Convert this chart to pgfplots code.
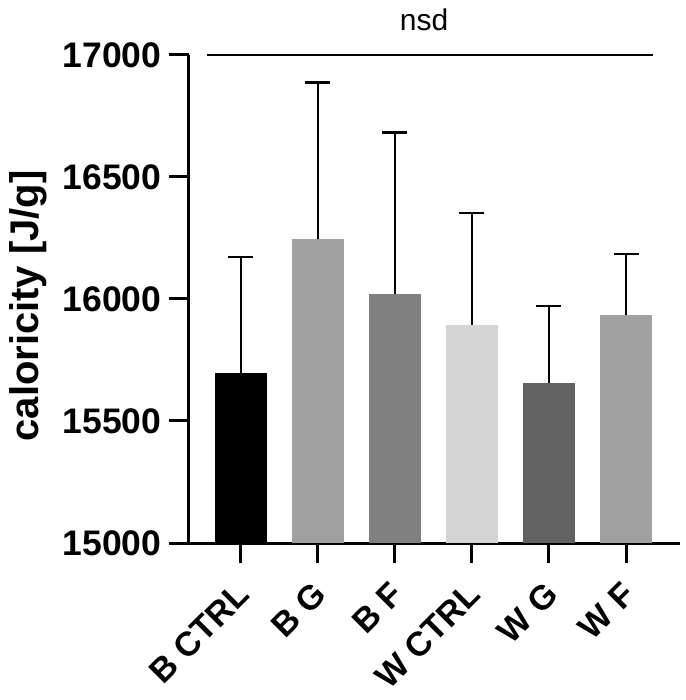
\documentclass[border=0pt]{standalone}
\usepackage{pgfplots}
\pgfplotsset{compat=1.18}
\usepackage{fontspec}
\setmainfont{Liberation Sans}
\definecolor{cBG}{HTML}{A0A0A0}
\definecolor{cBF}{HTML}{808080}
\definecolor{cWC}{HTML}{D4D4D4}
\definecolor{cWG}{HTML}{626262}
\definecolor{cWF}{HTML}{A0A0A0}
\begin{document}
\begin{tikzpicture}
\useasboundingbox (-189pt,-157pt) rectangle (496pt,543pt);
\begin{axis}[
  at={(0pt,0pt)}, anchor=south west,
  scale only axis, width=491pt, height=488pt,
  xmin=-0.671, xmax=5.70, ymin=15000, ymax=17000,
  axis x line*=bottom, axis y line*=left,
  axis line style={line width=3pt},
  every tick/.style={black, line width=3pt},
  tick align=outside, major tick length=20pt,
  xtick={0,1,2,3,4,5},
  xticklabels={B CTRL, B G, B F, W CTRL, W G, W F},
  ytick={15000,15500,16000,16500,17000},
  scaled y ticks=false,
  /pgf/number format/assume math mode=true,
  /pgf/number format/1000 sep={},
  yticklabel style={font=\fontsize{35.5}{35.5}\selectfont\bfseries, xshift=-4pt},
  xticklabel style={font=\fontsize{34}{34}\selectfont\bfseries, rotate=45, anchor=east, xshift=-13pt, yshift=-20pt},
  ylabel={caloricity [J/g]},
  ylabel style={font=\fontsize{40}{40}\selectfont\bfseries, at={(axis description cs:-0.328,0.486)}, anchor=center},
  ybar, bar width=52pt, bar shift=0pt,
  clip=false,
  error bars/y dir=plus, error bars/y explicit,
  error bars/error bar style={black, line width=2.2pt},
  error bars/error mark options={rotate=90, mark size=12.5pt, line width=2.2pt, black},
]
\addplot[fill=black, draw=none] coordinates {(0,15697) +- (0,475)};
\addplot[fill=cBG, draw=none] coordinates {(1,16244) +- (0,643)};
\addplot[fill=cBF, draw=none] coordinates {(2,16019) +- (0,663)};
\addplot[fill=cWC, draw=none] coordinates {(3,15895) +- (0,456)};
\addplot[fill=cWG, draw=none] coordinates {(4,15657) +- (0,313)};
\addplot[fill=cWF, draw=none] coordinates {(5,15936) +- (0,247)};
\draw[line width=2pt] (axis cs:-0.437,17000) -- (axis cs:5.35,17000);
\node[font=\fontsize{30}{30}\selectfont] at (axis cs:2.38,17143) {nsd};
\end{axis}
\end{tikzpicture}
\end{document}
